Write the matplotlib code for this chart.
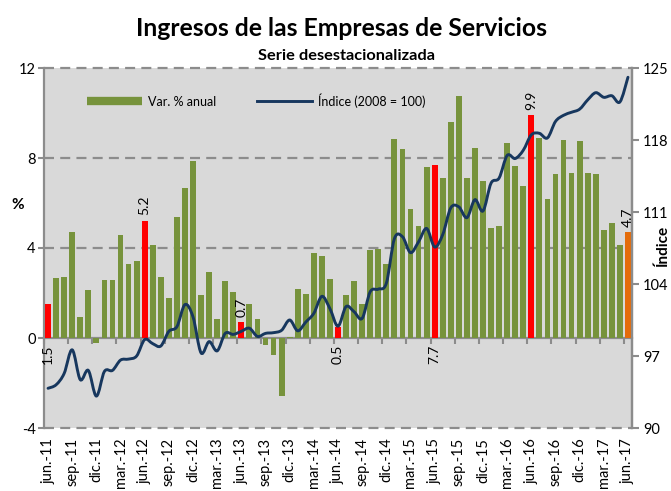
import numpy as np
import matplotlib
matplotlib.use('Agg')
import matplotlib.pyplot as plt
from matplotlib.path import Path
from matplotlib.patches import PathPatch
from matplotlib.lines import Line2D

plt.rcParams['font.family'] = ['Lato', 'DejaVu Sans']

# ---------------- data ----------------
tick_labels = ['jun.-11', 'sep.-11', 'dic.-11', 'mar.-12', 'jun.-12', 'sep.-12', 'dic.-12',
               'mar.-13', 'jun.-13', 'sep.-13', 'dic.-13', 'mar.-14', 'jun.-14', 'sep.-14',
               'dic.-14', 'mar.-15', 'jun.-15', 'sep.-15', 'dic.-15', 'mar.-16', 'jun.-16',
               'sep.-16', 'dic.-16', 'mar.-17', 'jun.-17']

# Var. % anual (jun-11 ... jun-17, monthly)
var_anual = [1.5, 2.68, 2.73, 4.73, 0.95, 2.12, -0.24, 2.58, 2.6, 4.6, 3.29, 3.41,
             5.2, 4.15, 2.7, 1.78, 5.38, 6.68, 7.88, 1.93, 2.92, 0.86, 2.52, 2.06,
             0.7, 1.51, 0.84, -0.3, -0.76, -2.56, 0.03, 2.18, 1.97, 3.78, 3.64, 2.62,
             0.5, 1.9, 2.55, 1.5, 3.91, 3.97, 3.3, 8.83, 8.4, 5.75, 5.0, 7.59,
             7.7, 7.1, 9.61, 10.77, 7.13, 8.43, 6.98, 4.9, 5.0, 8.68, 7.64, 6.74,
             9.9, 8.87, 6.19, 7.3, 8.78, 7.33, 8.74, 7.33, 7.29, 4.8, 5.1, 4.15,
             4.7]

# Índice (2008 = 100)
indice = [93.86, 94.2, 95.3, 97.6, 94.7, 95.6, 93.1, 95.5, 95.6, 96.6, 96.7, 97.0,
          98.6, 98.2, 97.97, 99.4, 99.85, 102.0, 100.8, 97.3, 98.4, 97.5, 99.2, 99.1,
          99.4, 99.7, 98.9, 99.2, 99.27, 99.5, 100.5, 99.45, 100.3, 101.15, 102.8, 101.6,
          99.9, 101.8, 101.3, 100.66, 103.25, 103.5, 104.07, 108.4, 108.6, 107.05, 108.1, 109.4,
          107.6, 108.8, 111.4, 111.5, 110.45, 112.2, 111.1, 113.8, 114.3, 116.5, 116.2, 117.0,
          118.5, 118.65, 118.2, 119.8, 120.4, 120.7, 121.0, 121.9, 122.6, 122.15, 122.3, 121.7,
          124.1]

red_months = [0, 12, 24, 36, 48, 60]      # June of each year
orange_months = [72]                       # last observation
labels_above = {12: '5.2', 24: '0.7', 60: '9.9', 72: '4.7'}
labels_below = {0: '1.5', 36: '0.5', 48: '7.7'}

# ---------------- style ----------------
GREEN = '#77933C'
RED = '#FF0000'
ORANGE = '#E46C0A'
NAVY = '#17375E'
GRID = '#8C8C8C'
AXIS = '#8C8C8C'

W, H = 671, 491
fig = plt.figure(figsize=(W / 100, H / 100), dpi=100)
fig.patch.set_facecolor('white')

L, R, T, B = 44, 632, 68, 428
ax = fig.add_axes([L / W, 1 - B / H, (R - L) / W, (B - T) / H])
ax.set_facecolor('#D9D9D9')

n = len(var_anual)
x = np.arange(n)
colors = [GREEN] * n
for i in red_months:
    colors[i] = RED
for i in orange_months:
    colors[i] = ORANGE

ax.bar(x, var_anual, width=0.72, color=colors, zorder=3)
ax.set_xlim(-0.5, n - 0.5)
ax.set_ylim(-4, 12)

# dashed gridlines
for v in [-4, 4, 8, 12]:
    ax.axhline(v, color=GRID, lw=1.6, ls=(0, (4.5, 2.8)), zorder=1, clip_on=False)

for s in ['top', 'bottom']:
    ax.spines[s].set_visible(False)
for s in ['left', 'right']:
    ax.spines[s].set_color(AXIS)
    ax.spines[s].set_linewidth(1.6)

ax.set_yticks([-4, 0, 4, 8, 12])
ax.set_yticklabels(['-4', '0', '4', '8', '12'])
ax.tick_params(axis='y', length=4, width=1.5, color=AXIS, labelsize=10.5, pad=2)

ax.set_xticks(x[::3])
ax.set_xticklabels(tick_labels, rotation=90, fontsize=10.5)
ax.tick_params(axis='x', length=0, pad=7)

# zero line with category tick marks
sec = ax.secondary_xaxis(0.25)
sec.set_xticks(np.arange(-0.5, n, 3))
sec.set_xticklabels([])
sec.tick_params(axis='x', length=4, width=1.5, color=AXIS, direction='out')
sec.spines['bottom'].set_color(AXIS)
sec.spines['bottom'].set_linewidth(1.6)

# data labels
for i, t in labels_above.items():
    ax.annotate(t, (i, var_anual[i]), xytext=(0, 4), textcoords='offset points',
                rotation=90, ha='center', va='bottom', fontsize=10, zorder=5)
for i, t in labels_below.items():
    ax.annotate(t, (i, 0), xytext=(0, -5), textcoords='offset points',
                rotation=90, ha='center', va='top', fontsize=10, zorder=5)

# right axis: index, smoothed line
ax2 = ax.twinx()
ax2.set_ylim(90, 125)
ax2.set_yticks(np.arange(90, 126, 7))
ax2.tick_params(axis='y', length=5, width=1.5, color=AXIS, labelsize=10.5, pad=3)
for s in ['top', 'bottom', 'left']:
    ax2.spines[s].set_visible(False)
ax2.spines['right'].set_color(AXIS)
ax2.spines['right'].set_linewidth(1.6)

xs = x.astype(float)
ys = np.array(indice, dtype=float)
verts = [(xs[0], ys[0])]
codes = [Path.MOVETO]
for k in range(n - 1):
    p0 = np.array([xs[max(k - 1, 0)], ys[max(k - 1, 0)]])
    p1 = np.array([xs[k], ys[k]])
    p2 = np.array([xs[k + 1], ys[k + 1]])
    p3 = np.array([xs[min(k + 2, n - 1)], ys[min(k + 2, n - 1)]])
    c1 = p1 + (p2 - p0) / 6.0
    c2 = p2 - (p3 - p1) / 6.0
    verts += [tuple(c1), tuple(c2), tuple(p2)]
    codes += [Path.CURVE4, Path.CURVE4, Path.CURVE4]
ax2.add_patch(PathPatch(Path(verts, codes), fill=False, edgecolor=NAVY, lw=2.1,
                        capstyle='round', joinstyle='round', zorder=4))

# legend
handles = [Line2D([], [], color=GREEN, lw=6, solid_capstyle='butt'),
           Line2D([], [], color=NAVY, lw=2.1)]
leg = ax2.legend(handles, ['Var. % anual', 'Índice (2008 = 100)'], ncol=2,
                 frameon=False, fontsize=9, handlelength=4.4, columnspacing=3.3,
                 handletextpad=0.45, loc='upper left', borderaxespad=0, borderpad=0,
                 bbox_to_anchor=((89 - L) / (R - L) - 0.003, 1 - (93 - T) / (B - T)))

# titles and axis labels
fig.text(0.509, 1 - 29 / H, 'Ingresos de las Empresas de Servicios', ha='center',
         va='center', fontsize=17.8, fontweight='bold')
fig.text(0.516, 1 - 56 / H, 'Serie desestacionalizada', ha='center', va='center',
         fontsize=11.8, fontweight='bold')
fig.text(18 / W, 1 - 205 / H, '%', ha='center', va='center', fontsize=11,
         fontweight='bold')
fig.text(663 / W, 1 - 245 / H, 'Índice', ha='center', va='center', fontsize=11,
         fontweight='bold', rotation=90)

fig.savefig('out.png', dpi=100, facecolor='white')
